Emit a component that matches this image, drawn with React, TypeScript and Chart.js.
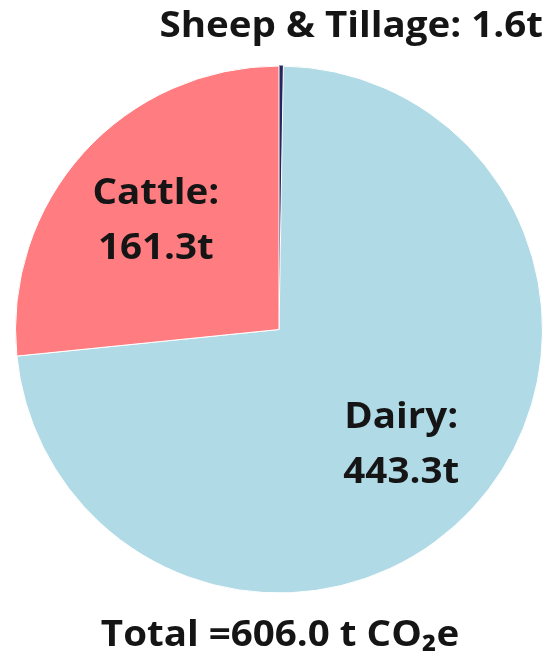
import React, { useEffect, useRef } from "react";
import { Chart, registerables } from "chart.js";

Chart.register(...registerables);

const labels = ["Sheep & Tillage", "Dairy", "Cattle"];
const values = [1.6, 443.3, 161.3];
const colors = ["#26265e", "#B0DAE6", "#FF7C80"];
const totalValue = 606.0;
const unit = "t";
const totalUnit = "t CO\u2082e";

const FONT = "'Open Sans'";
const SX = 1.07;

function drawText(ctx: CanvasRenderingContext2D, text: string, x: number, y: number, align: CanvasTextAlign) {
  ctx.save();
  ctx.translate(x, y);
  ctx.scale(SX, 1);
  ctx.textAlign = align;
  ctx.fillText(text, 0, 0);
  ctx.restore();
}

const labelPlugin = {
  id: "sliceLabels",
  afterDraw(chart: any) {
    const ctx = chart.ctx;
    const meta = chart.getDatasetMeta(0);
    ctx.save();
    ctx.fillStyle = "#151515";
    ctx.font = `bold 36px ${FONT}`;
    ctx.textBaseline = "alphabetic";
    for (let i = 1; i < values.length; i++) {
      const arc = meta.data[i];
      const p = arc.getProps(["x", "y", "startAngle", "endAngle", "outerRadius"], true);
      const mid = (p.startAngle + p.endAngle) / 2;
      const r = p.outerRadius * 0.63;
      const cx = p.x + Math.cos(mid) * r;
      const cy = p.y + Math.sin(mid) * r;
      drawText(ctx, `${labels[i]}:`, cx, cy - 14, "center");
      drawText(ctx, `${values[i].toFixed(1)}${unit}`, cx, cy + 41, "center");
    }
    // small slice label at top
    drawText(ctx, `${labels[0]}: ${values[0].toFixed(1)}${unit}`, 543, 37, "right");
    // total
    drawText(ctx, `Total =${totalValue.toFixed(1)} ${totalUnit}`, 280, 646, "center");
    ctx.restore();
  },
};

export default function App() {
  const ref = useRef<HTMLCanvasElement | null>(null);
  useEffect(() => {
    if (!ref.current) return;
    const chart = new Chart(ref.current, {
      type: "pie",
      data: {
        labels,
        datasets: [
          {
            data: values,
            backgroundColor: colors,
            borderColor: ["#26265e", "#ffffff", "#ffffff"],
            borderWidth: [1, 1, 1],
          },
        ],
      },
      options: {
        responsive: false,
        animation: false,
        layout: { padding: { top: 65, bottom: 60, left: 15, right: 5 } },
        plugins: {
          legend: { display: false },
          tooltip: { enabled: false },
          title: { display: false },
        },
      },
      plugins: [labelPlugin],
    });
    return () => chart.destroy();
  }, []);
  return (
    <div style={{ position: "absolute", left: 0, top: 0, width: 548, height: 654, background: "#fff" }}>
      <canvas ref={ref} width={548} height={654} />
    </div>
  );
}
